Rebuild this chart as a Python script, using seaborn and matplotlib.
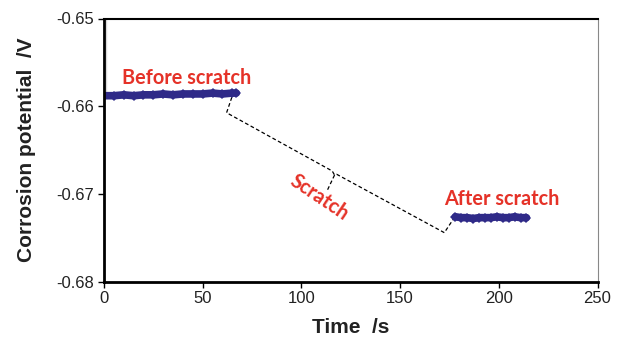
import numpy as np
import pandas as pd
import matplotlib
matplotlib.use("Agg")
import matplotlib.pyplot as plt
import seaborn as sns

# ---------------- data ----------------
# before the scratch (s, V)
before_t = [0, 5, 10, 15, 20, 25, 30, 35, 40, 45, 50, 55, 60, 65, 67]
before_v = [-0.6588, -0.6588, -0.6587, -0.6588, -0.6587, -0.6587, -0.6586, -0.6587,
            -0.6586, -0.6586, -0.6586, -0.6585, -0.6586, -0.6585, -0.6585]

# after the scratch
after_t = [178, 181, 184, 187, 190, 193, 196, 199, 202, 205, 208, 211, 214]
after_v = [-0.6726, -0.6727, -0.6727, -0.6728, -0.6727, -0.6727, -0.6727, -0.6726,
           -0.6727, -0.6727, -0.6726, -0.6727, -0.6727]

# initial spike at t ~ 1 s
spike_t = [1.0, 1.0]
spike_v = [-0.6500, -0.6586]

# dashed leader line drawn between the two segments
leader_t = [67.2, 64.8, 62.1, 115.6, 116.8, 117.9, 172.4, 177.8]
leader_v = [-0.65853, -0.65895, -0.66074, -0.66738, -0.66784, -0.66776, -0.67441, -0.67259]
pointer_t = [116.8, 112.8]
pointer_v = [-0.66784, -0.66974]

x_ticks = [0, 50, 100, 150, 200, 250]
y_ticks = [-0.68, -0.67, -0.66, -0.65]

BLUE = "#2f2a88"
RED = "#e53228"

sns.set_theme(style="white")
plt.rcParams["font.family"] = ["Liberation Sans", "DejaVu Sans"]

fig = plt.figure(figsize=(6.32, 3.39), dpi=100)
ax = fig.add_axes([104 / 632, 1 - 281.7 / 339, (597.5 - 104) / 632, (281.7 - 18.5) / 339])

df_before = pd.DataFrame({"t": before_t, "v": before_v})
df_after = pd.DataFrame({"t": after_t, "v": after_v})

sns.lineplot(x=spike_t, y=spike_v, ax=ax, color="#444444", lw=1.2, sort=False)
ax.plot(leader_t, leader_v, color="black", lw=0.9, ls=(0, (3, 2)))
ax.plot(pointer_t, pointer_v, color="black", lw=0.9, ls=(0, (3, 2)))

for d in (df_before, df_after):
    sns.lineplot(data=d, x="t", y="v", ax=ax, color=BLUE, lw=5.5,
                 marker="D", markersize=5, markeredgewidth=0, sort=False)

# annotations
lbl_font = dict(family=["Lato", "DejaVu Sans"], weight="bold", color=RED, fontsize=14.3)
ax.text(9.1, -0.65678, "Before scratch", ha="left", va="center", **lbl_font)
ax.text(172.2, -0.67057, "After scratch", ha="left", va="center", **lbl_font)
ax.text(108.9, -0.67046, "Scratch", ha="center", va="center", rotation=-34, **lbl_font)

ax.set_xlim(0, 250)
ax.set_ylim(-0.68, -0.65)
ax.set_xticks(x_ticks)
ax.set_yticks(y_ticks)
ax.set_xticklabels([str(t) for t in x_ticks])
ax.set_yticklabels([f"{v:.2f}" for v in y_ticks])
ax.tick_params(axis="both", direction="out", length=4, width=1, color="black",
               labelsize=12, labelcolor="#222222", pad=3, bottom=True, left=True)

ax.set_xlabel("Time  /s", fontsize=15, fontweight="bold", color="#222222", labelpad=8)
ax.set_ylabel("Corrosion potential  /V", fontsize=15, fontweight="bold", color="#222222", labelpad=15)

for side in ("left", "bottom"):
    ax.spines[side].set_color("black")
    ax.spines[side].set_linewidth(2.0)
ax.spines["top"].set_color("black")
ax.spines["top"].set_linewidth(1.5)
ax.spines["right"].set_color("#888888")
ax.spines["right"].set_linewidth(0.8)

fig.savefig("out.png", dpi=100)
